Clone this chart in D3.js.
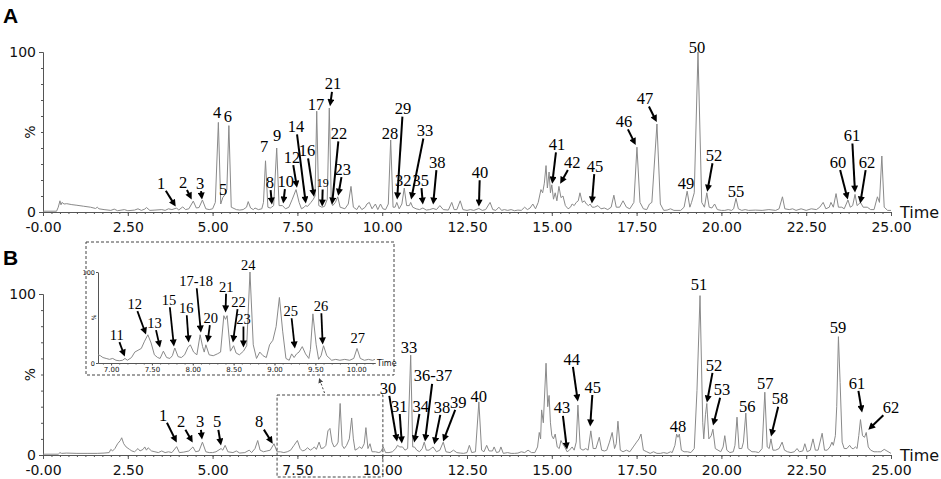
<!DOCTYPE html>
<html>
<head>
<meta charset="utf-8">
<title>Chromatograms A and B</title>
<script src="https://d3js.org/d3.v7.min.js"></script>
<style>
  body { margin: 0; background: #fff; }
</style>
</head>
<body>
<div id="chart"></div>
<script>
// ---- data: [time (min), relative intensity (%)] ----
var traceA = [
  [0.00,0.5],[0.40,0.5],[0.45,3],[0.50,7],[0.53,4.5],[0.56,6],[0.62,5],[0.70,5.2],[0.85,4.6],[1.0,4.2],[1.2,3.6],[1.4,3],[1.55,2.2],[1.6,3],[1.65,2],[1.8,1.5],[2.0,1],[2.1,1.8],[2.2,0.8],[2.4,1.5],[2.5,0.8],[2.7,1.2],[2.8,2],[2.9,1],[3.0,1.8],[3.05,2.8],[3.15,1],[3.3,1.2],[3.5,1.5],[3.6,1],[3.7,2],[3.8,1.5],[3.94,2.5],[4.0,1.2],[4.12,3.2],[4.2,1.5],[4.3,2],[4.43,6.8],[4.52,2.5],[4.6,2.8],[4.7,7.5],[4.8,2],[4.9,1.5],[5.0,2],[5.08,6],[5.17,56],[5.24,5],[5.3,9],[5.37,11],[5.42,14],[5.48,54],[5.55,3],[5.7,1.5],[5.8,1.2],[5.9,1.5],[6.0,3],[6.05,6.5],[6.12,2.5],[6.2,1.5],[6.25,2.5],[6.35,1.5],[6.45,2],[6.5,6],[6.56,32],[6.63,3],[6.7,2.5],[6.74,3],[6.8,4],[6.89,40],[6.96,4],[7.06,4],[7.15,2],[7.25,3],[7.35,8],[7.46,14],[7.55,6],[7.62,2],[7.7,3],[7.74,4],[7.8,3.5],[7.9,6],[7.97,8],[8.02,10],[8.07,63],[8.13,4],[8.22,3],[8.3,3.5],[8.38,8],[8.44,65],[8.5,6],[8.54,4],[8.62,6],[8.69,9.5],[8.76,3],[8.9,2],[9.0,5],[9.08,16],[9.15,3],[9.25,1.5],[9.32,4],[9.4,1.5],[9.5,3],[9.55,5],[9.62,6],[9.7,2],[9.8,5],[9.87,1.5],[9.95,5],[10.02,2],[10.1,1.5],[10.18,5],[10.25,45],[10.32,3],[10.38,3],[10.43,6],[10.5,2],[10.58,5],[10.65,15],[10.72,4],[10.8,4],[10.84,6],[10.9,3],[11.0,2],[11.1,1.5],[11.2,2.5],[11.3,1.2],[11.4,1.5],[11.5,2.2],[11.6,1.5],[11.7,4],[11.8,1.5],[11.95,1.2],[12.05,6],[12.12,1.5],[12.2,1.5],[12.3,7],[12.38,1.5],[12.5,1],[12.6,1.5],[12.7,1],[12.85,2.2],[12.95,1],[13.05,1.5],[13.18,6],[13.26,1.5],[13.35,1],[13.44,3],[13.52,1],[13.6,1.5],[13.7,1],[13.8,1.5],[13.9,0.8],[14.0,1.2],[14.1,1],[14.2,3],[14.28,1.5],[14.36,2.5],[14.44,5],[14.52,2],[14.6,6],[14.68,14],[14.73,12],[14.78,18],[14.83,29],[14.87,15],[14.92,25],[14.96,12],[15.0,17],[15.05,8],[15.1,12],[15.15,7],[15.21,16],[15.27,9],[15.33,10],[15.4,4],[15.48,2],[15.55,3],[15.6,5],[15.66,4],[15.72,6],[15.78,7],[15.83,12],[15.9,6],[15.96,7],[16.02,5],[16.08,4],[16.13,5],[16.19,3],[16.26,3],[16.36,4],[16.45,2],[16.55,2.5],[16.65,1.5],[16.75,3],[16.83,10.5],[16.9,3],[17.0,3],[17.1,7],[17.2,3],[17.3,2],[17.42,6],[17.51,40.5],[17.6,6],[17.7,2],[17.8,1.5],[17.88,5],[17.95,6],[18.1,55],[18.2,5],[18.3,1],[18.4,1.2],[18.5,2],[18.6,1],[18.8,1],[18.9,3],[18.99,13],[19.07,3],[19.12,6],[19.2,12],[19.31,100],[19.42,6],[19.5,3],[19.57,12],[19.64,3],[19.72,2.5],[19.8,5],[19.88,1.5],[20.0,1],[20.1,1],[20.2,1.5],[20.3,1],[20.36,2],[20.43,8.5],[20.5,2],[20.6,1],[20.7,1.5],[20.8,1],[21.0,1.2],[21.2,1],[21.4,1.5],[21.6,1],[21.7,2],[21.8,9.5],[21.87,2],[22.0,1.5],[22.1,2],[22.2,1],[22.35,2],[22.5,1],[22.65,2],[22.8,1.5],[22.9,3],[23.0,6],[23.08,2],[23.18,3],[23.23,6],[23.3,3],[23.38,11.5],[23.45,3],[23.55,3],[23.62,2],[23.73,7.5],[23.8,3],[23.87,4],[23.94,11],[24.0,4],[24.1,6],[24.18,3],[24.3,3],[24.4,1.5],[24.5,1.5],[24.6,9.5],[24.66,6],[24.73,35],[24.8,3],[24.9,1],[25.0,1]
];

var traceB = [
  [0,0.5],[0.45,0.5],[0.5,1.5],[0.55,1],[0.7,1.2],[1.0,1],[1.3,1],[1.6,1],[1.8,1.2],[1.95,1.5],[2.0,3.5],[2.05,2.5],[2.12,4],[2.2,7],[2.28,9],[2.32,10.7],[2.38,7],[2.45,5],[2.55,3.5],[2.62,2.5],[2.7,2],[2.8,4],[2.86,2.5],[2.95,3.5],[3.0,5],[3.05,3],[3.1,4.5],[3.2,2.5],[3.3,2],[3.4,1.5],[3.5,2.5],[3.6,1.5],[3.7,2],[3.8,1.5],[3.94,5.2],[4.02,1.5],[4.15,1.8],[4.3,2.5],[4.42,5],[4.5,2],[4.6,2.5],[4.7,8],[4.8,2],[4.9,1.5],[5.0,1.5],[5.1,2],[5.25,4],[5.3,3],[5.37,6],[5.45,2],[5.6,1.5],[5.7,2.5],[5.8,1.2],[5.95,1.5],[6.08,3],[6.15,1.5],[6.25,4],[6.33,9],[6.4,3],[6.5,2],[6.6,2.5],[6.7,3],[6.81,7],[6.9,2],[7.0,2],[7.1,1.5],[7.2,2],[7.3,3],[7.4,6],[7.5,9],[7.58,4],[7.65,2.5],[7.72,3],[7.8,4.5],[7.88,3],[7.95,4],[8.0,5],[8.06,3.5],[8.14,8],[8.2,4],[8.28,4.5],[8.34,6],[8.4,15],[8.46,16.5],[8.52,8],[8.58,5],[8.65,6],[8.7,8],[8.76,32],[8.82,6],[8.88,4],[8.95,6],[9.03,10],[9.1,23],[9.15,10],[9.2,3],[9.28,4],[9.33,5],[9.4,4],[9.47,7],[9.52,17],[9.58,4],[9.64,7],[9.7,2],[9.8,2],[9.9,1.5],[9.96,2],[10.03,5],[10.1,1.5],[10.2,1.5],[10.3,2],[10.4,4],[10.45,6],[10.52,5],[10.6,5],[10.67,3],[10.75,4],[10.84,62],[10.9,5],[10.95,5],[11.02,3],[11.1,2],[11.18,4],[11.24,8],[11.3,3],[11.38,3],[11.44,4],[11.5,5],[11.6,2],[11.7,3],[11.8,8],[11.88,2],[12.0,1.5],[12.1,3],[12.2,1.5],[12.3,1.2],[12.4,1],[12.5,1.5],[12.57,6],[12.64,1.5],[12.75,2],[12.85,33],[12.93,3],[13.0,2],[13.08,6],[13.15,2.5],[13.25,2.5],[13.3,5],[13.37,1.5],[13.45,2],[13.5,5],[13.57,1],[13.7,1.5],[13.8,1],[13.9,1],[14.0,1.2],[14.1,2],[14.2,1.5],[14.3,3],[14.4,1.5],[14.5,1.5],[14.58,5],[14.63,14],[14.67,10],[14.7,28],[14.75,20],[14.83,57],[14.88,30],[14.92,37],[14.96,20],[15.0,12],[15.05,10],[15.1,13],[15.16,5],[15.22,4],[15.27,9],[15.32,7],[15.38,5],[15.45,2],[15.52,3],[15.6,5],[15.66,3],[15.72,8],[15.77,31],[15.84,4],[15.92,3],[16.0,4],[16.07,3],[16.15,15],[16.22,4],[16.3,4],[16.4,11],[16.47,3],[16.55,2.5],[16.62,3],[16.7,8],[16.78,14],[16.85,4],[16.9,7],[16.95,21],[17.02,3],[17.1,2],[17.2,3],[17.3,2],[17.4,5],[17.5,8],[17.57,10],[17.63,13],[17.7,3],[17.8,2],[17.9,1],[18.0,2],[18.1,1],[18.2,1],[18.3,1.5],[18.4,1],[18.5,2],[18.55,1.5],[18.63,6],[18.68,13],[18.72,11],[18.76,13],[18.82,3],[18.9,2],[19.0,2],[19.1,1.5],[19.2,4],[19.28,40],[19.37,99],[19.45,20],[19.48,10],[19.53,25],[19.57,32],[19.63,10],[19.7,12],[19.75,16],[19.82,4],[19.9,3],[19.98,2],[20.05,5],[20.1,12],[20.16,3],[20.25,1.5],[20.35,2],[20.4,6],[20.46,23.5],[20.52,4],[20.6,4],[20.65,8],[20.72,26],[20.78,4],[20.9,2],[21.0,2],[21.1,1.5],[21.2,4],[21.28,39],[21.35,5],[21.41,4],[21.46,10],[21.52,3],[21.6,3],[21.7,4],[21.79,8],[21.86,3],[21.95,2],[22.05,1.5],[22.15,2],[22.23,4],[22.3,2],[22.4,2.5],[22.46,7],[22.53,2],[22.62,3],[22.7,10],[22.77,3],[22.85,3],[22.97,13.5],[23.04,3],[23.12,3],[23.2,5],[23.26,8],[23.3,6],[23.36,12],[23.4,30],[23.45,73.5],[23.5,45],[23.56,8],[23.62,4],[23.7,4],[23.78,6],[23.85,4],[23.9,4],[23.95,5],[24.0,4],[24.05,12],[24.1,22],[24.16,12],[24.22,11],[24.27,14],[24.33,5],[24.4,3],[24.5,2],[24.6,2],[24.7,2],[24.8,3.5],[24.88,2.5],[25,1]
];

var traceInset = [
  [6.84,9],[6.87,8],[6.9,6],[6.94,5],[6.98,4],[7.02,5],[7.06,3],[7.1,2.5],[7.14,3],[7.17,5],[7.2,3],[7.25,6],[7.29,12],[7.33,14],[7.37,16],[7.41,24],[7.45,31],[7.49,22],[7.53,9],[7.57,6],[7.6,5],[7.64,13],[7.68,6],[7.72,5],[7.75,8],[7.78,16.5],[7.82,7],[7.86,6],[7.9,9],[7.94,17],[7.97,20],[8.01,12],[8.05,9],[8.09,31],[8.12,18],[8.14,12],[8.16,20],[8.2,9],[8.25,8],[8.3,10],[8.34,12],[8.38,52],[8.4,48],[8.42,52],[8.46,13],[8.5,19],[8.53,11],[8.57,9],[8.62,13],[8.66,19],[8.7,100],[8.74,20],[8.78,5],[8.82,12],[8.86,8],[8.9,6],[8.94,20],[8.98,25],[9.02,40],[9.06,72],[9.1,35],[9.14,5],[9.18,3],[9.21,10],[9.24,6],[9.27,10],[9.3,12],[9.34,18],[9.38,10],[9.42,5],[9.44,15],[9.47,54],[9.51,20],[9.54,4],[9.57,8],[9.6,19],[9.64,8],[9.7,3],[9.75,4],[9.8,3],[9.86,4],[9.92,3],[9.97,5],[10.01,16],[10.05,5],[10.1,3],[10.15,4],[10.2,3],[10.23,4]
];

// peak labels: [text, label time, label %, arrow tip time, arrow tip %] (no tip = no arrow)
var peaksA = [
  ["1",3.48,18,3.92,3.1],["2",4.13,18.6,4.39,7.5],["3",4.63,18,4.69,7.5],["4",5.13,62],["5",5.31,14.3],["6",5.45,59.6],
  ["7",6.52,41],["8",6.69,18.6,6.75,4.3],["9",6.9,47.8],["10",7.16,19.3,7.08,5],["12",7.34,34.2,7.49,14.9],
  ["14",7.46,53.4,7.75,5],["16",7.78,38.5,7.99,9.3],["17",8.05,67.1],["19",8.25,18,8.23,3.1],["21",8.55,80.1,8.46,65.8],
  ["22",8.73,49.1,8.52,4.3],["23",8.84,26.7,8.7,9.9],["28",10.23,49.1],["29",10.61,64.6,10.44,7.5],["32",10.62,19.9],
  ["33",11.26,50.9,10.85,7.5],["35",11.14,19.9,11.2,4.3],["38",11.62,31.1,11.5,4.3],["40",12.88,24.8,12.85,3.1],
  ["41",15.15,42.2,15.01,17.4],["42",15.6,31.1,15.24,17.4],["45",16.27,28.6,16.18,5],["46",17.13,56.5,17.48,41.6],
  ["47",17.75,70.8,18.1,55.9],["49",18.96,18],["50",19.28,103.1],["52",19.78,35.4,19.58,12.4],["55",20.43,13],
  ["60",23.44,31.1,23.73,7.5],["61",23.85,47.8,23.94,11.8],["62",24.29,31.1,24.09,5]
];

var peaksB = [
  ["1",3.54,24.8,3.95,7.5],["2",4.07,20.5,4.42,7.5],["3",4.63,20.5,4.69,9.3],["5",5.13,20.5,5.25,5.6],["8",6.37,20.5,6.78,6.8],
  ["30",10.17,41.6,10.44,8.1],["31",10.5,30.4,10.58,6.8],["33",10.79,66.5],["34",11.14,30.4,10.94,7.5],
  ["36-37",11.5,49.1,11.26,8.1],["38",11.76,29.8,11.53,6.2],["39",12.24,32.9,11.79,8.1],["40",12.85,36.6],
  ["43",15.3,29.2,15.45,3.1],["44",15.59,59.6,15.77,32.9],["45",16.21,42.2,16.13,17.4],["48",18.72,17.4],
  ["51",19.34,106.2],["52",19.78,55.9,19.57,32.3],["53",20.02,40.4,19.75,18],["56",20.76,30.4],["57",21.29,44.7],
  ["58",21.73,34.8,21.46,11.2],["59",23.44,79.5],["61",24.0,44.7,24.15,26.1],["62",25.0,29.2,24.32,15.5]
];

var peaksInset = [
  ["11",7.07,30.8,7.17,6.6],["12",7.29,64.8,7.43,30.8],["13",7.53,44,7.6,16.5],["15",7.71,69.2,7.77,17.6],
  ["16",7.92,60.4,7.95,22],["17-18",8.04,90.1,8.1,33],["20",8.22,49.5,8.18,22],["21",8.41,84,8.4,55],
  ["22",8.56,67,8.49,22],["23",8.62,48,8.62,16.5],["24",8.68,107.7],["25",9.2,57.1,9.25,15.4],
  ["26",9.57,62.6,9.59,19.8],["27",10.02,27.5]
];

var timeTicks = [0, 2.5, 5, 7.5, 10, 12.5, 15, 17.5, 20, 22.5, 25];
var timeLabels = ["-0.00","2.50","5.00","7.50","10.00","12.50","15.00","17.50","20.00","22.50","25.00"];
var insetTicks = [7, 7.5, 8, 8.5, 9, 9.5, 10];
var insetLabels = ["7.00","7.50","8.00","8.50","9.00","9.50","10.00"];
var zoomWindow = [6.9, 10.02];

// ---- layout ----
var W = 941, H = 479;
var svg = d3.select("#chart").append("svg").attr("width", W).attr("height", H);

var defs = svg.append("defs");
defs.append("marker").attr("id", "head")
  .attr("viewBox", "0 0 10 10").attr("refX", 5).attr("refY", 5)
  .attr("markerWidth", 8).attr("markerHeight", 7)
  .attr("markerUnits", "userSpaceOnUse").attr("orient", "auto")
  .append("path").attr("d", "M0,0L10,5L0,10z").attr("fill", "#000");
defs.append("marker").attr("id", "headSmall")
  .attr("viewBox", "0 0 10 10").attr("refX", 8).attr("refY", 5)
  .attr("markerWidth", 5).attr("markerHeight", 5)
  .attr("markerUnits", "userSpaceOnUse").attr("orient", "auto")
  .append("path").attr("d", "M0,0L10,5L0,10z").attr("fill", "#444");

var x = d3.scaleLinear().domain([0, 25]).range([43, 891]);
var traceColor = "#8a8a8a", axisColor = "#555";
var sans = "DejaVu Sans, Verdana, sans-serif";
var serif = "Liberation Serif, Times New Roman, serif";

function styleAxis(g, size) {
  g.attr("font-family", sans).attr("font-size", size);
  g.selectAll("path,line").attr("stroke", axisColor);
  g.selectAll("text").attr("fill", "#111");
}

// label + optional arrow, placed in data units through the panel scales
function drawPeaks(g, peaks, xs, ys, fontSize, arrowWidth) {
  peaks.forEach(function(p) {
    var fs = p[0] === "19" ? 12 : fontSize;
    var cx = xs(p[1]), cy = ys(p[2]);
    g.append("text").attr("x", cx).attr("y", cy)
      .attr("text-anchor", "middle").attr("dominant-baseline", "central")
      .attr("font-family", serif).attr("font-size", fs).attr("fill", "#000")
      .text(p[0]);
    if (p.length < 5) return;
    var tx = xs(p[3]), ty = ys(p[4]);
    var dx = tx - cx, dy = ty - cy, len = Math.sqrt(dx * dx + dy * dy);
    var ux = dx / len, uy = dy / len;
    var hw = p[0].length * fs * 0.27 + 1, hh = fs * 0.36;
    var d = Math.min(Math.abs(uy) > 0.01 ? hh / Math.abs(uy) : 999, Math.abs(ux) > 0.01 ? hw / Math.abs(ux) : 999) + 2;
    g.append("line")
      .attr("x1", cx + ux * d).attr("y1", cy + uy * d)
      .attr("x2", tx - ux * 4).attr("y2", ty - uy * 4)
      .attr("stroke", "#000").attr("stroke-width", arrowWidth)
      .attr("marker-end", "url(#head)");
  });
}

function drawPanel(trace, peaks, top, bottom, letter) {
  var y = d3.scaleLinear().domain([0, 100]).range([bottom, top]);
  var g = svg.append("g");

  // minor ticks
  g.append("g").attr("transform", "translate(0," + bottom + ")")
    .call(d3.axisBottom(x).tickValues(d3.range(0, 25.001, 0.25)).tickSize(2).tickSizeOuter(0).tickFormat(""))
    .call(styleAxis, 14);
  g.append("g").attr("transform", "translate(" + x(0) + ",0)")
    .call(d3.axisLeft(y).tickValues(d3.range(0, 101, 10)).tickSize(2).tickSizeOuter(0).tickFormat(""))
    .call(styleAxis, 14);

  // major ticks
  g.append("g").attr("transform", "translate(0," + bottom + ")")
    .call(d3.axisBottom(x).tickValues(timeTicks).tickSize(4).tickSizeOuter(0).tickPadding(6)
      .tickFormat(function(d, i) { return timeLabels[i]; }))
    .call(styleAxis, 14);
  g.append("g").attr("transform", "translate(" + x(0) + ",0)")
    .call(d3.axisLeft(y).tickValues([0, 100]).tickSize(4).tickSizeOuter(0).tickPadding(3))
    .call(styleAxis, 14);

  g.append("text").attr("transform", "translate(30," + y(50) + ") rotate(-90)")
    .attr("text-anchor", "middle").attr("dominant-baseline", "central")
    .attr("font-family", sans).attr("font-size", 14).attr("fill", "#111").text("%");
  g.append("text").attr("x", 900).attr("y", bottom + 6)
    .attr("font-family", sans).attr("font-size", 16).attr("fill", "#111").text("Time");
  g.append("text").attr("x", 3).attr("y", top - 29)
    .attr("font-family", "Liberation Sans, Arial, sans-serif").attr("font-weight", "bold")
    .attr("font-size", 21).attr("fill", "#000").text(letter);

  var line = d3.line().x(function(d) { return x(d[0]); }).y(function(d) { return y(d[1]); });
  g.append("path").datum(trace).attr("d", line)
    .attr("fill", "none").attr("stroke", traceColor).attr("stroke-width", 1);

  drawPeaks(g, peaks, x, y, 16.5, 2);
  return y;
}

drawPanel(traceA, peaksA, 52, 212, "A");
var yB = drawPanel(traceB, peaksB, 294, 455, "B");

// ---- zoom window in B and the inset ----
svg.append("rect")
  .attr("x", x(zoomWindow[0])).attr("y", 395)
  .attr("width", x(zoomWindow[1]) - x(zoomWindow[0])).attr("height", 82)
  .attr("fill", "none").attr("stroke", "#444").attr("stroke-dasharray", "3,2");
svg.append("line")
  .attr("x1", x(8.3)).attr("y1", 393).attr("x2", x(8.15)).attr("y2", 379)
  .attr("stroke", "#444").attr("stroke-dasharray", "2,2")
  .attr("marker-end", "url(#headSmall)");

var inset = svg.append("g");
inset.append("rect").attr("x", 86).attr("y", 242).attr("width", 308).attr("height", 133)
  .attr("fill", "#fff").attr("stroke", "#444").attr("stroke-dasharray", "3,2");

var xi = d3.scaleLinear().domain([6.84, 10.23]).range([98, 375]);
var yi = d3.scaleLinear().domain([0, 100]).range([363, 272]);

inset.append("g").attr("transform", "translate(0,363)")
  .call(d3.axisBottom(xi).tickValues(d3.range(6.9, 10.21, 0.1)).tickSize(1.5).tickSizeOuter(0).tickFormat(""))
  .call(styleAxis, 7);
inset.append("g").attr("transform", "translate(0,363)")
  .call(d3.axisBottom(xi).tickValues(insetTicks).tickSize(2.5).tickSizeOuter(0).tickPadding(2)
    .tickFormat(function(d, i) { return insetLabels[i]; }))
  .call(styleAxis, 7);
inset.append("g").attr("transform", "translate(98,0)")
  .call(d3.axisLeft(yi).tickValues([0, 100]).tickSize(2).tickSizeOuter(0).tickPadding(1))
  .call(styleAxis, 6.5);
inset.append("text").attr("transform", "translate(93," + yi(50) + ") rotate(-90)")
  .attr("text-anchor", "middle").attr("dominant-baseline", "central")
  .attr("font-family", sans).attr("font-size", 6).attr("fill", "#111").text("%");
inset.append("text").attr("x", 377).attr("y", 366)
  .attr("font-family", sans).attr("font-size", 8).attr("fill", "#111").text("Time");

var lineI = d3.line().x(function(d) { return xi(d[0]); }).y(function(d) { return yi(d[1]); });
inset.append("path").datum(traceInset).attr("d", lineI)
  .attr("fill", "none").attr("stroke", traceColor).attr("stroke-width", 1);

drawPeaks(inset, peaksInset, xi, yi, 14.5, 1.8);
</script>
</body>
</html>
